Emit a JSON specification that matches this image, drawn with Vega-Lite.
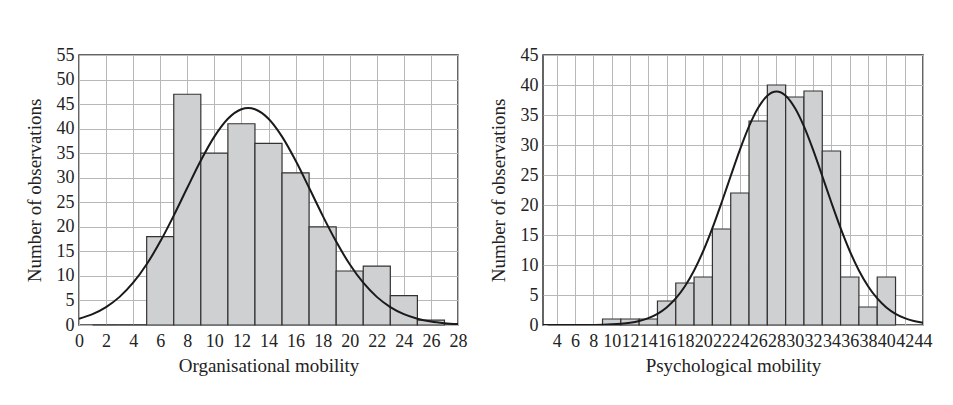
{
  "$schema": "https://vega.github.io/schema/vega-lite/v6.json",
  "padding": {"left": 24, "top": 45, "right": 20, "bottom": 0},
  "background": "white",
  "config": {
    "font": "Liberation Serif",
    "view": {"stroke": "#333333", "strokeWidth": 1.5},
    "axis": {
      "domain": false,
      "ticks": false,
      "gridColor": "#b8b8b8",
      "gridOpacity": 1,
      "gridWidth": 1,
      "labelFont": "Liberation Serif",
      "labelFontSize": 18,
      "labelColor": "#222222",
      "titleFont": "Liberation Serif",
      "titleFontSize": 19,
      "titleFontWeight": "normal",
      "titleColor": "#222222",
      "labelOverlap": false,
      "labelFlush": false
    },
    "axisX": {"labelPadding": 7, "titlePadding": 6},
    "axisY": {"labelPadding": 5, "titlePadding": 12}
  },
  "datasets": {
    "org": [
      {"start": 1, "end": 3, "count": 0},
      {"start": 3, "end": 5, "count": 0},
      {"start": 5, "end": 7, "count": 18},
      {"start": 7, "end": 9, "count": 47},
      {"start": 9, "end": 11, "count": 35},
      {"start": 11, "end": 13, "count": 41},
      {"start": 13, "end": 15, "count": 37},
      {"start": 15, "end": 17, "count": 31},
      {"start": 17, "end": 19, "count": 20},
      {"start": 19, "end": 21, "count": 11},
      {"start": 21, "end": 23, "count": 12},
      {"start": 23, "end": 25, "count": 6},
      {"start": 25, "end": 27, "count": 1}
    ],
    "orgCurve": [
      {"x": 0, "y": 1.29}, {"x": 1, "y": 2.21}, {"x": 2, "y": 3.65}, {"x": 3, "y": 5.73},
      {"x": 4, "y": 8.61}, {"x": 5, "y": 12.37}, {"x": 6, "y": 16.99}, {"x": 7, "y": 22.29},
      {"x": 8, "y": 27.95}, {"x": 9, "y": 33.5}, {"x": 10, "y": 38.37}, {"x": 11, "y": 42.01},
      {"x": 12, "y": 43.95}, {"x": 12.5, "y": 44.2}, {"x": 13, "y": 43.95}, {"x": 14, "y": 42.01},
      {"x": 15, "y": 38.37}, {"x": 16, "y": 33.5}, {"x": 17, "y": 27.95}, {"x": 18, "y": 22.29},
      {"x": 19, "y": 16.99}, {"x": 20, "y": 12.37}, {"x": 21, "y": 8.61}, {"x": 22, "y": 5.73},
      {"x": 23, "y": 3.65}, {"x": 24, "y": 2.21}, {"x": 25, "y": 1.29}, {"x": 26, "y": 0.71},
      {"x": 27, "y": 0.38}, {"x": 28, "y": 0.19}
    ],
    "psy": [
      {"start": 3, "end": 5, "count": 0},
      {"start": 5, "end": 7, "count": 0},
      {"start": 7, "end": 9, "count": 0},
      {"start": 9, "end": 11, "count": 1},
      {"start": 11, "end": 13, "count": 1},
      {"start": 13, "end": 15, "count": 1},
      {"start": 15, "end": 17, "count": 4},
      {"start": 17, "end": 19, "count": 7},
      {"start": 19, "end": 21, "count": 8},
      {"start": 21, "end": 23, "count": 16},
      {"start": 23, "end": 25, "count": 22},
      {"start": 25, "end": 27, "count": 34},
      {"start": 27, "end": 29, "count": 40},
      {"start": 29, "end": 31, "count": 38},
      {"start": 31, "end": 33, "count": 39},
      {"start": 33, "end": 35, "count": 29},
      {"start": 35, "end": 37, "count": 8},
      {"start": 37, "end": 39, "count": 3},
      {"start": 39, "end": 41, "count": 8}
    ],
    "psyCurve": [
      {"x": 2.5, "y": 0}, {"x": 5, "y": 0.003}, {"x": 7, "y": 0.014}, {"x": 9, "y": 0.06},
      {"x": 10, "y": 0.12}, {"x": 11, "y": 0.22}, {"x": 12, "y": 0.39}, {"x": 13, "y": 0.68},
      {"x": 14, "y": 1.15}, {"x": 15, "y": 1.87}, {"x": 16, "y": 2.93}, {"x": 17, "y": 4.43},
      {"x": 18, "y": 6.46}, {"x": 19, "y": 9.09}, {"x": 20, "y": 12.33}, {"x": 21, "y": 16.14},
      {"x": 22, "y": 20.38}, {"x": 23, "y": 24.83}, {"x": 24, "y": 29.19}, {"x": 25, "y": 33.1},
      {"x": 26, "y": 36.2}, {"x": 27, "y": 38.21}, {"x": 28, "y": 38.9}, {"x": 29, "y": 38.21},
      {"x": 30, "y": 36.2}, {"x": 31, "y": 33.1}, {"x": 32, "y": 29.19}, {"x": 33, "y": 24.83},
      {"x": 34, "y": 20.38}, {"x": 35, "y": 16.14}, {"x": 36, "y": 12.33}, {"x": 37, "y": 9.09},
      {"x": 38, "y": 6.46}, {"x": 39, "y": 4.43}, {"x": 40, "y": 2.93}, {"x": 41, "y": 1.87},
      {"x": 42, "y": 1.15}, {"x": 43, "y": 0.68}, {"x": 44, "y": 0.39}
    ]
  },
  "bounds": "flush",
  "spacing": 85,
  "hconcat": [
    {
      "width": 379,
      "height": 270,
      "layer": [
        {
          "data": {"name": "org"},
          "mark": {"type": "rect", "fill": "#cfd0d2", "stroke": "#333333", "strokeWidth": 1.2},
          "encoding": {
            "x": {"field": "start", "type": "quantitative", "title": "Organisational mobility",
                  "scale": {"domain": [0, 28], "nice": false, "zero": false},
                  "axis": {"values": [0,2,4,6,8,10,12,14,16,18,20,22,24,26,28]}},
            "x2": {"field": "end"},
            "y": {"field": "count", "type": "quantitative", "title": "Number of observations",
                  "scale": {"domain": [0, 55], "nice": false},
                  "axis": {"values": [0,5,10,15,20,25,30,35,40,45,50,55]}}
          }
        },
        {
          "data": {"name": "orgCurve"},
          "mark": {"type": "line", "stroke": "#1a1a1a", "strokeWidth": 2, "interpolate": "monotone", "clip": true},
          "encoding": {
            "x": {"field": "x", "type": "quantitative", "title": "Organisational mobility",
                  "axis": {"values": [0,2,4,6,8,10,12,14,16,18,20,22,24,26,28]}},
            "y": {"field": "y", "type": "quantitative", "title": "Number of observations",
                  "axis": {"values": [0,5,10,15,20,25,30,35,40,45,50,55]}}
          }
        }
      ]
    },
    {
      "width": 380,
      "height": 270,
      "layer": [
        {
          "data": {"name": "psy"},
          "mark": {"type": "rect", "fill": "#cfd0d2", "stroke": "#333333", "strokeWidth": 1.2},
          "encoding": {
            "x": {"field": "start", "type": "quantitative", "title": "Psychological mobility",
                  "scale": {"domain": [2.5, 44], "nice": false, "zero": false},
                  "axis": {"values": [4,6,8,10,12,14,16,18,20,22,24,26,28,30,32,34,36,38,40,42,44]}},
            "x2": {"field": "end"},
            "y": {"field": "count", "type": "quantitative", "title": "Number of observations",
                  "scale": {"domain": [0, 45], "nice": false},
                  "axis": {"values": [0,5,10,15,20,25,30,35,40,45]}}
          }
        },
        {
          "data": {"name": "psyCurve"},
          "mark": {"type": "line", "stroke": "#1a1a1a", "strokeWidth": 2, "interpolate": "monotone", "clip": true},
          "encoding": {
            "x": {"field": "x", "type": "quantitative", "title": "Psychological mobility",
                  "axis": {"values": [4,6,8,10,12,14,16,18,20,22,24,26,28,30,32,34,36,38,40,42,44]}},
            "y": {"field": "y", "type": "quantitative", "title": "Number of observations",
                  "axis": {"values": [0,5,10,15,20,25,30,35,40,45]}}
          }
        }
      ]
    }
  ]
}
